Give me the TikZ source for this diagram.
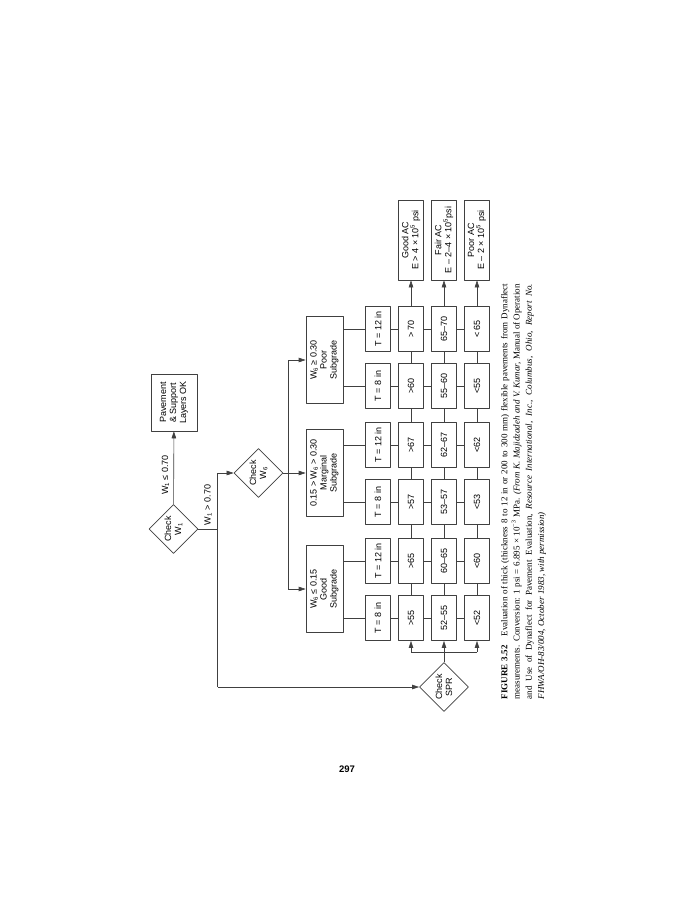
\documentclass[tikz,border=0pt]{standalone}
\usepackage{fontspec}
\setmainfont{Liberation Sans}
\newfontfamily\capfont{Liberation Serif}
\usetikzlibrary{shapes.geometric,arrows.meta}

\begin{document}
\begin{tikzpicture}[x=1pt, y=-1pt, line join=round, >={Stealth[length=7pt,width=4.5pt,inset=0pt]},
	font=\fontsize{9}{10}\selectfont,
	ln/.style={draw=black!75, line width=.6pt},
	box/.style={ln, fill=white, rotate=90, align=center, inner sep=1pt},
	cell/.style={box, minimum width=45pt, minimum height=25pt},
	sub/.style={box, minimum width=87pt, minimum height=37pt},
	acbox/.style={box, minimum width=80pt, minimum height=25pt},
	dia/.style={ln, fill=white, diamond, aspect=1, inner sep=0pt, minimum size=49pt, rotate=90, align=center},
	lbl/.style={rotate=90, inner sep=0pt}]
	\useasboundingbox (0,0) rectangle (695,900);
	\def\xT{378} \def\xa{411} \def\xb{444} \def\xc{477} % x of the columns
	% decisions
	\node[dia] (w1) at (173.5,529) {Check\\W\textsubscript{1}};
	\node[dia] (w6) at (258.5,473) {Check\\W\textsubscript{6}};
	\node[dia] (spr) at (444,687) {Check\\SPR};
	\node[box, minimum width=57pt, minimum height=46pt] (pave) at (174,402.5) {Pavement\\\& Support\\Layers OK};
	% subgrades
	\node[sub] (poor) at (324.5,360) {W\textsubscript{6} ≥ 0.30\\Poor\\Subgrade};
	\node[sub] (marg) at (324.5,473) {0.15 > W\textsubscript{6} > 0.30\\Marginal\\Subgrade};
	\node[sub] (good) at (324.5,589) {W\textsubscript{6} ≤ 0.15\\Good\\Subgrade};
	% AC quality
	\node[acbox] (acg) at (\xa,240) {Good AC\\E > 4 × 10\textsuperscript{5} psi};
	\node[acbox] (acf) at (\xb,240) {Fair AC\\E – 2–4 × 10\textsuperscript{5}psi};
	\node[acbox] (acp) at (\xc,240) {Poor AC\\E – 2 × 10\textsuperscript{5} psi};
	% SPR table
	\foreach \j/\yy/\s/\tin/\ra/\rb/\rc in {1/329/poor/12/> 70/65–70/< 65, 2/386/poor/8/>60/55–60/<55,
		3/445/marg/12/>67/62–67/<62, 4/502/marg/8/>57/53–57/<53,
		5/561/good/12/>65/60–65/<60, 6/618/good/8/>55/52–55/<52}{
		\node[cell] (t\j) at (\xT,\yy) {T = \tin\ in};
		\node[cell] (a\j) at (\xa,\yy) {\ra};
		\node[cell] (b\j) at (\xb,\yy) {\rb};
		\node[cell] (c\j) at (\xc,\yy) {\rc};
		\draw[ln] (\s.south |- t\j) -- (t\j) (t\j) -- (a\j) (a\j) -- (b\j) (b\j) -- (c\j);
	}
	\foreach \j/\k in {1/2,2/3,3/4,4/5,5/6}
		\draw[ln] (a\j) -- (a\k) (b\j) -- (b\k) (c\j) -- (c\k);
	\draw[ln,->] (a1) -- (acg);
	\draw[ln,->] (b1) -- (acf);
	\draw[ln,->] (c1) -- (acp);
	% W1 branch
	\coordinate (j1) at (217.5,529);
	\draw[ln,->] (w1) -- (pave);
	\draw[ln] (w1) -- (j1) (j1 |- w6) -- (j1 |- spr);
	\draw[ln,->] (j1 |- w6) -- (w6);
	\draw[ln,->] (j1 |- spr) -- (spr);
	\node[lbl] (l1) at (165.5,475) {W\textsubscript{1} ≤ 0.70};
	\node[lbl] (l2) at (208,505) {W\textsubscript{1} > 0.70};
	% W6 branch
	\coordinate (j6) at (288,473);
	\draw[ln] (w6) -- (j6) (j6 |- poor) -- (j6 |- good);
	\draw[ln,->] (j6) -- (marg);
	\draw[ln,->] (j6 |- poor) -- (poor);
	\draw[ln,->] (j6 |- good) -- (good);
	% SPR branch
	\coordinate (js) at (\xb,652);
	\draw[ln,->] (spr) -- (b6);
	\draw[ln] (js -| a6) -- (js -| c6);
	\draw[ln,->] (js -| a6) -- (a6);
	\draw[ln,->] (js -| c6) -- (c6);
	% caption and page number
	\node[rotate=90, text width=415pt, align=justify, inner sep=0pt, font=\capfont\fontsize{9}{12.3}\selectfont] (cap) at (523.5,491.5)
		{\textbf{FIGURE 3.52}\quad Evaluation of thick (thickness 8 to 12 in or 200 to 300 mm) flexible pavements from Dynaflect\linebreak
		measurements. Conversion: 1 psi = 6.895 × 10\textsuperscript{−3} MPa. \textit{(From K. Majidzadeh and V. Kumar,} Manual of Operation\linebreak
		and Use of Dynaflect for Pavement Evaluation, \textit{Resource International, Inc., Columbus, Ohio, Report No.}\linebreak
		\textit{FHWA/OH-83/004, October 1983, with permission)}};
	\node[font=\bfseries\fontsize{9.5}{11}\selectfont] (page) at (347,769) {297};
\end{tikzpicture}
\end{document}
